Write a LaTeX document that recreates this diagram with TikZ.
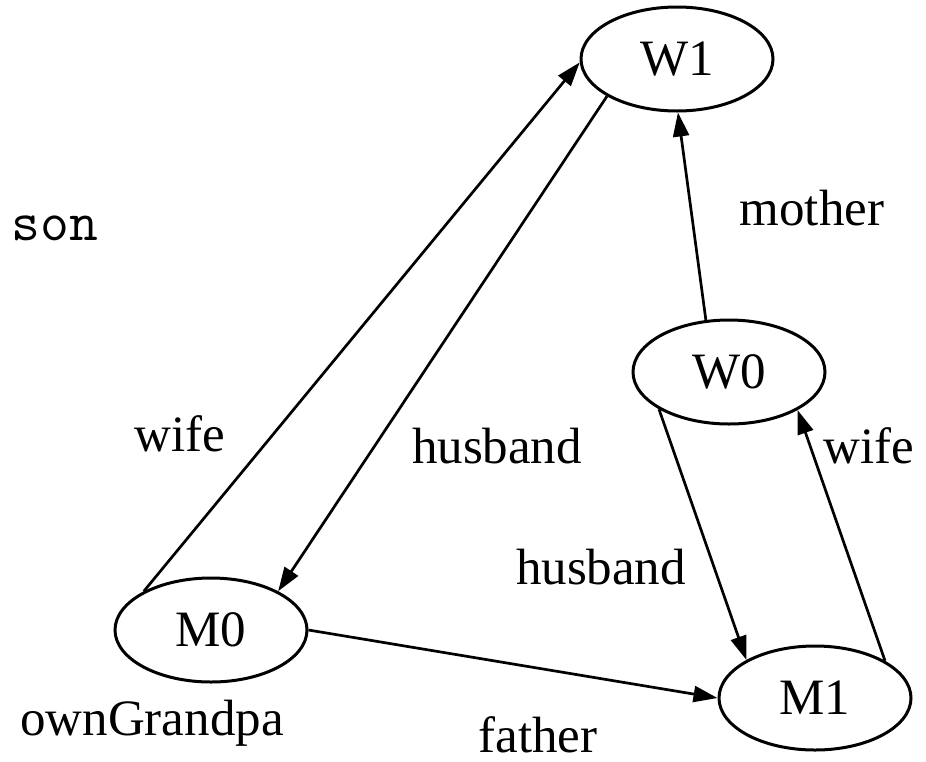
\documentclass[tikz,border=0pt]{standalone}
\usepackage{fontspec}
\setmainfont{Liberation Serif}
\usetikzlibrary{shapes.geometric,arrows.meta}

\tikzset{
  state/.style={ellipse, draw, line width=1.5pt, inner sep=0pt,
    minimum width=96pt, minimum height=52pt,
    font=\fontsize{25.5pt}{30pt}\selectfont},
  link/.style={line width=1.35pt,
    -{Triangle[length=12pt,width=8pt]}},
  lbl/.style={anchor=base, inner sep=0pt,
    font=\fontsize{25.5pt}{30pt}\selectfont},
}

\begin{document}
\begin{tikzpicture}[x=0.5pt,y=-0.5pt]
  \useasboundingbox (0,0) rectangle (926,761);

  % states
  \node[state] (W1) at (677,59)  {W1};
  \node[state] (W0) at (729,372) {W0};
  \node[state] (M0) at (211,630) {M0};
  \node[state] (M1) at (815,698) {M1};

  % relations
  \draw[link] (M0.150)   -- (W1.182);
  \draw[link] (W1.208.8) -- (M0.30.8);
  \draw[link] (W0.114)   -- (W1.271);
  \draw[link] (W0.208.6) -- (M1.151);
  \draw[link] (M1.28.3)  -- (W0.331.7);
  \draw[link] (M0.0)     -- (M1.180);

  % edge labels
  \node[lbl] (lmother)   at (812,225) {mother};
  \node[lbl] (lwifeA)    at (180,451) {wife};
  \node[lbl] (lhusbA)    at (497,463) {husband};
  \node[lbl] (lwifeB)    at (869,463) {wife};
  \node[lbl] (lhusbB)    at (601,584) {husband};
  \node[lbl] (lgrandpa)  at (152,735) {ownGrandpa};
  \node[lbl, text depth=0pt] (lfather) at (538,752) {father};
  \node[lbl, font=\fontsize{28pt}{32pt}\ttfamily] (lson) at (55,240) {son};
\end{tikzpicture}
\end{document}
